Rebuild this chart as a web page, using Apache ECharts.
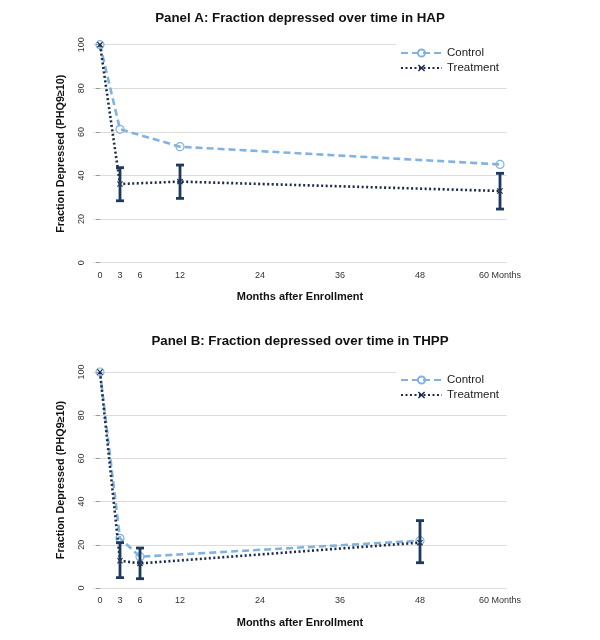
<!DOCTYPE html>
<html><head><meta charset="utf-8">
<script src="https://cdn.jsdelivr.net/npm/echarts@6/dist/echarts.min.js"></script>
<style>html,body{margin:0;padding:0;background:#fff}#c{width:600px;height:640px}</style>
</head><body><div id="c"></div>
<script>
const months = [0, 3, 6, 12, 24, 36, 48, 60];
const monthLabels = ['0', '3', '6', '12', '24', '36', '48', '60 Months'];
const yTicks = [0, 20, 40, 60, 80, 100];
const panelTitles = ['Panel A: Fraction depressed over time in HAP', 'Panel B: Fraction depressed over time in THPP'];
const seriesNames = ['Control', 'Treatment'];
const xTitle = 'Months after Enrollment';
const yTitle = 'Fraction Depressed (PHQ9\u226510)';

// Panel A (HAP)
const hapMonths = [0, 3, 12, 60];
const hapControl = [100, 61.2, 53.2, 45.1];
const hapTreatment = [100, 36.1, 37.2, 32.9];
const hapCiMonths = [3, 12, 60];
const hapCiLow = [28.4, 29.5, 24.6];
const hapCiHigh = [43.6, 44.8, 41.0];

// Panel B (THPP)
const thppMonths = [0, 3, 6, 48];
const thppControl = [100, 23.0, 14.5, 21.9];
const thppTreatment = [100, 12.6, 11.4, 21.0];
const thppCiMonths = [3, 6, 48];
const thppCiLow = [4.8, 4.3, 11.7];
const thppCiHigh = [21.0, 18.5, 31.2];

const CTRL = '#82b3df';
const TRT = '#1b2a4c';
const ERR = '#1d3a5e';
const FONT = 'Liberation Sans, Arial, sans-serif';
const xSym = 'path://M0,1.4L1.4,0L5,3.6L8.6,0L10,1.4L6.4,5L10,8.6L8.6,10L5,6.4L1.4,10L0,8.6L3.6,5Z';

const pair = (xs, ys) => xs.map((x, i) => [x, ys[i]]);
const triple = (xs, lo, hi) => xs.map((x, i) => [x, lo[i], hi[i]]);

function errRender(params, api) {
  const x = api.value(0), lo = api.value(1), hi = api.value(2);
  const a = api.coord([x, lo]), b = api.coord([x, hi]);
  const w = 4;
  const style = { stroke: ERR, lineWidth: 2.8 };
  return { type: 'group', children: [
    { type: 'line', shape: { x1: a[0], y1: a[1], x2: b[0], y2: b[1] }, style },
    { type: 'line', shape: { x1: a[0] - w, y1: a[1], x2: a[0] + w, y2: a[1] }, style },
    { type: 'line', shape: { x1: b[0] - w, y1: b[1], x2: b[0] + w, y2: b[1] }, style }
  ]};
}

const grids = [
  { left: 93.33, width: 413.33, top: 44.7, height: 218 },
  { left: 93.33, width: 413.33, top: 372, height: 216 }
];

function xAxisFor(i) {
  return {
    type: 'value', gridIndex: i, min: -1, max: 61,
    name: xTitle, nameLocation: 'middle', nameGap: 29,
    nameTextStyle: { fontFamily: FONT, fontWeight: 'bold', fontSize: 11, color: '#111' },
    axisLine: { show: false }, axisTick: { show: false }, splitLine: { show: false },
    axisLabel: {
      customValues: months, margin: 8, fontFamily: FONT, fontSize: 9, color: '#333',
      formatter: v => monthLabels[months.indexOf(v)]
    }
  };
}
function yAxisFor(i) {
  return {
    type: 'value', gridIndex: i, min: 0, max: 100, interval: 20,
    name: yTitle, nameLocation: 'middle', nameGap: 27, nameRotate: 90,
    nameTextStyle: { fontFamily: FONT, fontWeight: 'bold', fontSize: 10.8, color: '#111' },
    axisLine: { show: false },
    axisTick: { show: true, length: 4, lineStyle: { color: '#999' } },
    splitLine: { lineStyle: { color: '#dcdcdc', width: 1 } },
    axisLabel: { rotate: 90, margin: 7, fontFamily: FONT, fontSize: 9, color: '#333',
      formatter: v => yTicks.includes(v) ? String(v) : '' }
  };
}

function lineSeries(name, idx, xs, ys) {
  const isC = name === seriesNames[0];
  return {
    name, type: 'line', xAxisIndex: idx, yAxisIndex: idx,
    data: pair(xs, ys),
    symbol: isC ? 'circle' : xSym,
    symbolSize: isC ? 8 : 6,
    showAllSymbol: true,
    lineStyle: isC ? { color: CTRL, width: 2.6, type: [7, 4] } : { color: TRT, width: 2.6, type: [2, 2.5] },
    itemStyle: isC ? { color: 'rgba(255,255,255,0)', borderColor: CTRL, borderWidth: 1.2 } : { color: TRT },
    z: isC ? 3 : 4,
    animation: false
  };
}
function errSeries(idx, xs, lo, hi) {
  return { type: 'custom', xAxisIndex: idx, yAxisIndex: idx, data: triple(xs, lo, hi),
    renderItem: errRender, z: 5, animation: false, silent: true };
}

function legendFor(top) {
  return {
    orient: 'vertical', left: 396, top: top, data: seriesNames,
    itemWidth: 41, itemHeight: 9, itemGap: 3,
    backgroundColor: '#fff', padding: [3, 12, 3, 4],
    textStyle: { fontFamily: FONT, fontSize: 11.5, color: '#222' }
  };
}

const chart = echarts.init(document.getElementById('c'), null, { renderer: 'canvas' });
chart.setOption({
  backgroundColor: '#fff',
  animation: false,
  title: [
    { text: panelTitles[0], left: 'center', top: 7, textStyle: { fontFamily: FONT, fontWeight: 'bold', fontSize: 13.3, color: '#111' } },
    { text: panelTitles[1], left: 'center', top: 330, textStyle: { fontFamily: FONT, fontWeight: 'bold', fontSize: 13.3, color: '#111' } }
  ],
  legend: [legendFor(44), legendFor(371)],
  grid: grids,
  xAxis: [xAxisFor(0), xAxisFor(1)],
  yAxis: [yAxisFor(0), yAxisFor(1)],
  series: [
    lineSeries(seriesNames[0], 0, hapMonths, hapControl),
    lineSeries(seriesNames[1], 0, hapMonths, hapTreatment),
    errSeries(0, hapCiMonths, hapCiLow, hapCiHigh),
    lineSeries(seriesNames[0], 1, thppMonths, thppControl),
    lineSeries(seriesNames[1], 1, thppMonths, thppTreatment),
    errSeries(1, thppCiMonths, thppCiLow, thppCiHigh)
  ]
});
</script></body></html>
